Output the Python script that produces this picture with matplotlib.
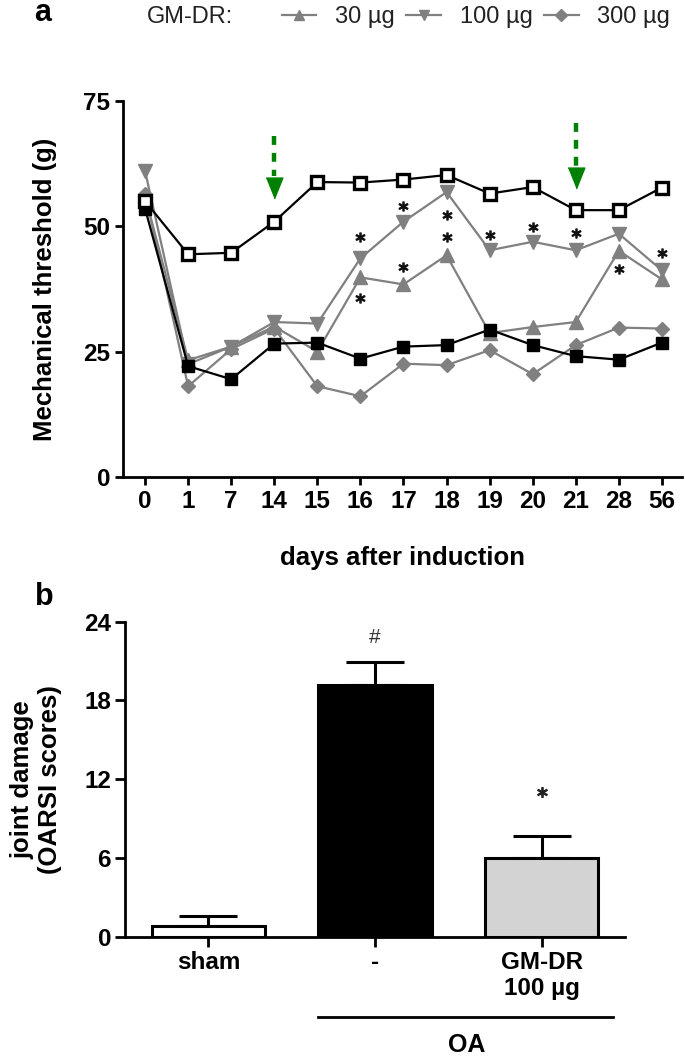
import numpy as np
import matplotlib
matplotlib.use('Agg')
import matplotlib.pyplot as plt
from matplotlib.lines import Line2D
from matplotlib import transforms

plt.rcParams['font.family'] = ['Liberation Sans', 'DejaVu Sans']

# panel a data (mechanical threshold, g)
days = ['0', '1', '7', '14', '15', '16', '17', '18', '19', '20', '21', '28', '56']
sham = [55.0, 44.4, 44.7, 50.9, 58.8, 58.7, 59.3, 60.2, 56.5, 57.8, 53.2, 53.2, 57.7]
oa = [53.5, 22.1, 19.5, 26.6, 26.8, 23.6, 26.0, 26.3, 29.4, 26.3, 24.1, 23.4, 26.8]
gm30 = [56.0, 23.3, 26.0, 30.0, 25.0, 39.8, 38.4, 44.2, 28.7, 29.9, 30.9, 45.1, 39.4]
gm100 = [61.0, 22.5, 26.0, 30.9, 30.6, 43.6, 50.9, 56.8, 45.2, 46.9, 45.2, 48.5, 41.2]
gm300 = [56.5, 18.1, 25.5, 29.6, 18.1, 16.1, 22.6, 22.3, 25.3, 20.5, 26.3, 29.8, 29.6]

# significance stars (day index, y)
star_x = [5, 5, 6, 6, 7, 7, 8, 9, 10, 11, 12]
star_y = [47.9, 35.6, 54.0, 41.8, 52.2, 47.9, 48.2, 49.9, 48.7, 41.4, 44.6]

# treatment arrows at day 14 and day 21
arrow_x = [3, 10]
arrow_top = [68.0, 70.5]
arrow_tip = [55.5, 57.5]

# panel b data (OARSI scores)
groups = ['sham', '-', 'GM-DR\n100 \u00b5g']
scores = [0.8, 19.2, 6.0]
sem = [0.8, 1.7, 1.7]
bar_colors = ['white', 'black', '#d3d3d3']
marks = ['', '#', '*']

fig = plt.figure(figsize=(6.85, 10.62), dpi=100)

gray = '#808080'
tick_fs = 17.5
label_fs = 18.5

# ---------------- panel a ----------------
ax = fig.add_axes([0.1791, 0.5508, 0.8161, 0.3543])
x = np.arange(len(days))
ax.plot(x, gm30, color=gray, lw=1.6, marker='^', ms=10, mec=gray, mfc=gray)
ax.plot(x, gm100, color=gray, lw=1.6, marker='v', ms=10.5, mec=gray, mfc=gray)
ax.plot(x, gm300, color=gray, lw=1.6, marker='D', ms=7.5, mec=gray, mfc=gray)
ax.plot(x, oa, color='black', lw=1.6, marker='s', ms=9, mec='black', mfc='black')
ax.plot(x, sham, color='black', lw=1.6, marker='s', ms=8.5, mec='black', mfc='white', mew=2.4)

ax.plot(star_x, star_y, ls='none', marker='$*$', ms=6.5, color='#111111')

for xa, yt, ytip in zip(arrow_x, arrow_top, arrow_tip):
    ax.plot([xa, xa], [yt, ytip + 4.5], color='green', lw=3.2, ls=(0, (2, 1.8)),
            solid_capstyle='butt')
    ax.plot([xa], [ytip + 2.1], ls='none', color='green', ms=15,
            marker=[(-0.8, 1.0), (0.8, 1.0), (0.0, -1.0)])

ax.set_xlim(-0.52, 12.46)
ax.set_ylim(0, 75)
ax.set_xticks(x)
ax.set_xticklabels(days)
ax.set_yticks([0, 25, 50, 75])
for s in ['top', 'right']:
    ax.spines[s].set_visible(False)
for s in ['left', 'bottom']:
    ax.spines[s].set_linewidth(2)
ax.tick_params(width=2, length=6, labelsize=tick_fs, pad=3)
for lab in ax.get_xticklabels() + ax.get_yticklabels():
    lab.set_fontweight('bold')
ax.set_xlabel('days after induction', fontsize=label_fs, fontweight='bold', labelpad=24)
ax.set_ylabel('Mechanical threshold (g)', fontsize=label_fs, fontweight='bold', labelpad=19)

# legend at top
fig.text(147 / 685, 1 - 17 / 1062, 'GM-DR:', fontsize=17, color='#222222', va='center', ha='left')
handles = [Line2D([], [], color=gray, lw=1.6, marker='^', ms=7, mfc=gray, mec=gray),
           Line2D([], [], color=gray, lw=1.6, marker='v', ms=7, mfc=gray, mec=gray),
           Line2D([], [], color=gray, lw=1.6, marker='D', ms=6, mfc=gray, mec=gray)]
fig.legend(handles, ['30 \u00b5g', '100 \u00b5g', '300 \u00b5g'], ncol=3, frameon=False,
           loc='center left', bbox_to_anchor=(270 / 685, 1 - 17 / 1062), borderpad=0,
           fontsize=17, handlelength=1.45, handletextpad=0.8, columnspacing=0.5,
           labelcolor='#222222')

fig.text(43 / 685, 1 - 13 / 1062, 'a', fontsize=22, fontweight='bold', ha='center', va='center')
fig.text(44 / 685, 1 - 597 / 1062, 'b', fontsize=22, fontweight='bold', ha='center', va='center')

# ---------------- panel b ----------------
bx = fig.add_axes([0.1825, 0.118, 0.7299, 0.2966])
pos = np.arange(len(groups))
bx.bar(pos, scores, width=0.68, color=bar_colors, edgecolor='black', linewidth=2.2, zorder=2)
bx.errorbar(pos, scores, yerr=[np.zeros(len(sem)), sem], fmt='none', ecolor='black',
            elinewidth=2.2, capsize=21, capthick=2.2, zorder=1)
for p, v, e, m in zip(pos, scores, sem, marks):
    if m == '#':
        bx.text(p, v + e + 1.9, m, ha='center', va='center', fontsize=15, color='#333333')
    elif m:
        bx.plot([p], [v + e + 3.3], ls='none', marker='$*$', ms=7, color='#222222')

bx.set_xlim(-0.5, 2.5)
bx.set_ylim(0, 24)
bx.set_yticks([0, 6, 12, 18, 24])
bx.set_xticks(pos)
bx.set_xticklabels(groups)
for s in ['top', 'right']:
    bx.spines[s].set_visible(False)
for s in ['left', 'bottom']:
    bx.spines[s].set_linewidth(2)
bx.tick_params(width=2, length=7, labelsize=tick_fs, pad=3)
for lab in bx.get_xticklabels() + bx.get_yticklabels():
    lab.set_fontweight('bold')
bx.set_ylabel('joint damage\n(OARSI scores)', fontsize=label_fs, fontweight='bold', labelpad=16)

trans = transforms.blended_transform_factory(bx.transData, bx.transAxes)
bx.plot([0.66, 2.43], [-0.254, -0.254], color='black', lw=2, transform=trans, clip_on=False)
bx.text(1.55, -0.345, 'OA', transform=trans, ha='center', va='center',
        fontsize=18, fontweight='bold')

fig.savefig('out.png', dpi=100)
